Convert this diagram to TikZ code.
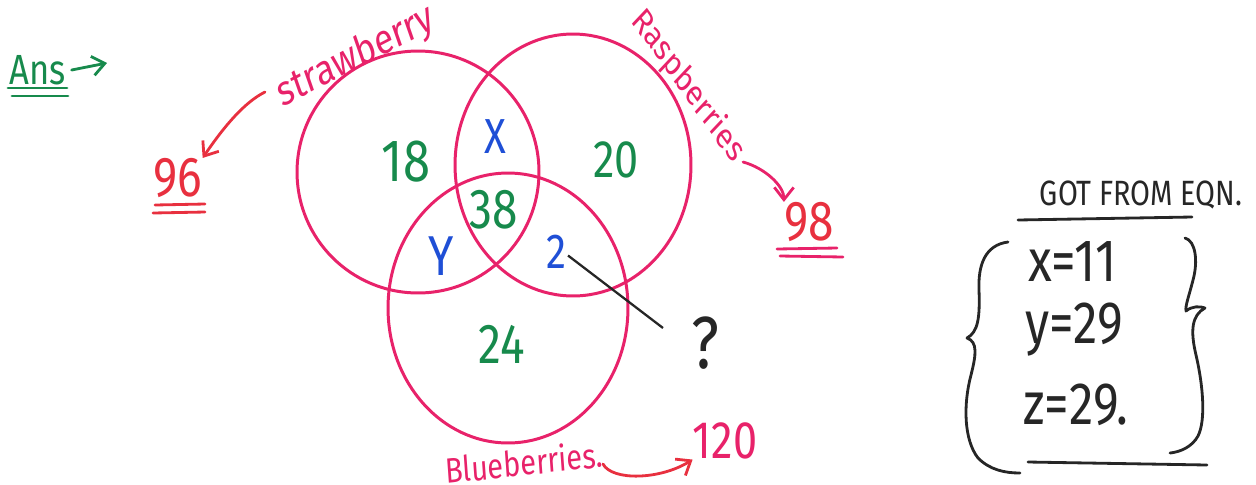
\documentclass[tikz,border=0pt]{standalone}
\usepackage{fontspec}
\setmainfont{Fira Sans}
\usetikzlibrary{shapes.geometric,arrows.meta}
\definecolor{vpink}{HTML}{E8226A}
\definecolor{vred}{HTML}{E8303F}
\definecolor{vgreen}{HTML}{178A4C}
\definecolor{vblue}{HTML}{1F4FD6}
\definecolor{vink}{HTML}{262626}
\begin{document}
\begin{tikzpicture}[x=0.02cm,y=-0.02cm,
  setcirc/.style={draw=vpink, line width=1.7pt, ellipse, inner sep=0pt},
  lbl/.style={inner sep=0pt, xscale=0.82, transform shape},
  grn/.style={lbl, text=vgreen},
  blu/.style={lbl, text=vblue},
  redt/.style={lbl, text=vred},
  pnk/.style={lbl, text=vpink},
  ink/.style={lbl, text=vink},
  fs/.style={font=\fontsize{#1}{#1}\selectfont},
  pen/.style={line width=1.6pt, line cap=round, line join=round},
  tip/.style={-{Straight Barb[length=7pt,width=11pt,line width=1.6pt]}}
]
\useasboundingbox (0,0) rectangle (1256,484);

% sets
\node[setcirc, minimum width=4.84cm, minimum height=4.84cm] (S) at (418,172) {};
\node[setcirc, minimum width=4.72cm, minimum height=5.24cm] (R) at (573,165) {};
\node[setcirc, minimum width=4.80cm, minimum height=5.40cm] (B) at (508,308) {};

% region values
\node[grn, fs=34] (n18) at (406,162) {18};
\node[blu, fs=28] (nx)  at (495,137) {X};
\node[grn, fs=30] (n20) at (616,160) {20};
\node[grn, fs=32] (n38) at (494,210) {38};
\node[blu, fs=32] (ny)  at (441,256) {Y};
\node[blu, fs=28] (nz)  at (556,252) {2};
\node[grn, fs=32] (n24) at (502,344) {24};
\node[ink, fs=42] (q)   at (705,343) {?};
\coordinate (qline) at (663,328);
\draw[vink, line width=1.3pt] ([xshift=1pt,yshift=-2pt]nz.east) -- (qline);

% set labels
\node[pnk, fs=24, rotate=23] (stxt) at (356,57) {strawberry};
\node[pnk, fs=20, rotate=-49] (rtxt) at (688,86) {Raspberries};
\node[pnk, fs=20, rotate=5] (btxt) at (524,462) {Blueberries.};

% totals
\node[redt, fs=32] (t96) at (178,178) {96};
\node[redt, fs=32] (t98) at (809,222) {98};
\node[pnk, fs=30] (t120) at (725,441) {120};

% arrows to totals
\coordinate (sa) at (265,92);
\draw[vred, pen, tip] (sa) .. controls (245,102) and (225,125) .. (t96.north east);
\coordinate (ra) at (743,162);
\draw[vpink, pen, tip] (ra) .. controls (765,168) and (784,186) .. (t98.north west);
\coordinate (ba) at (603,464);
\draw[vred, pen, tip] (ba) .. controls (612,481) and (660,480) .. (t120.south west);

% underlines
\draw[vred, pen] (155,205) -- (205,204) (153,213) -- (205,212);
\draw[vpink, pen] (777,249) -- (837,248) (780,256) -- (843,257);

% Ans
\node[grn, fs=24] (ans) at (38,70) {Ans};
\coordinate (anstip) at (107,63);
\draw[vgreen, pen, tip] ([xshift=3pt]ans.east) -- (anstip);
\draw[vgreen, pen] (8,88) -- (67,88) (12,96) -- (68,96);

% equations panel
\node[ink, fs=20] (got) at (1141,195) {GOT FROM EQN.};
\draw[vink, pen] (1018,220) -- (1192,217);
\node[ink, fs=34, anchor=west] (ex) at (1028,262) {x=11};
\node[ink, fs=34, anchor=west] (ey) at (1025,330) {y=29};
\node[ink, fs=34, anchor=west] (ez) at (1023,405) {z=29.};
\draw[vink, pen] (1028,462) -- (1207,465);
% left brace
\draw[vink, pen] (1008,242) .. controls (985,245) and (978,265) .. (979,290)
  .. controls (980,318) and (978,332) .. (967,338)
  .. controls (978,342) and (976,355) .. (971,375)
  .. controls (963,405) and (964,440) .. (978,458)
  .. controls (990,470) and (1005,473) .. (1020,473);
% right brace
\draw[vink, pen] (1185,238) .. controls (1196,241) and (1198,262) .. (1193,280)
  .. controls (1189,296) and (1185,306) .. (1186,311)
  .. controls (1192,306) and (1200,306) .. (1205,308)
  .. controls (1192,315) and (1190,330) .. (1196,355)
  .. controls (1203,385) and (1206,420) .. (1198,436)
  .. controls (1192,447) and (1180,452) .. (1170,453);
\end{tikzpicture}
\end{document}
